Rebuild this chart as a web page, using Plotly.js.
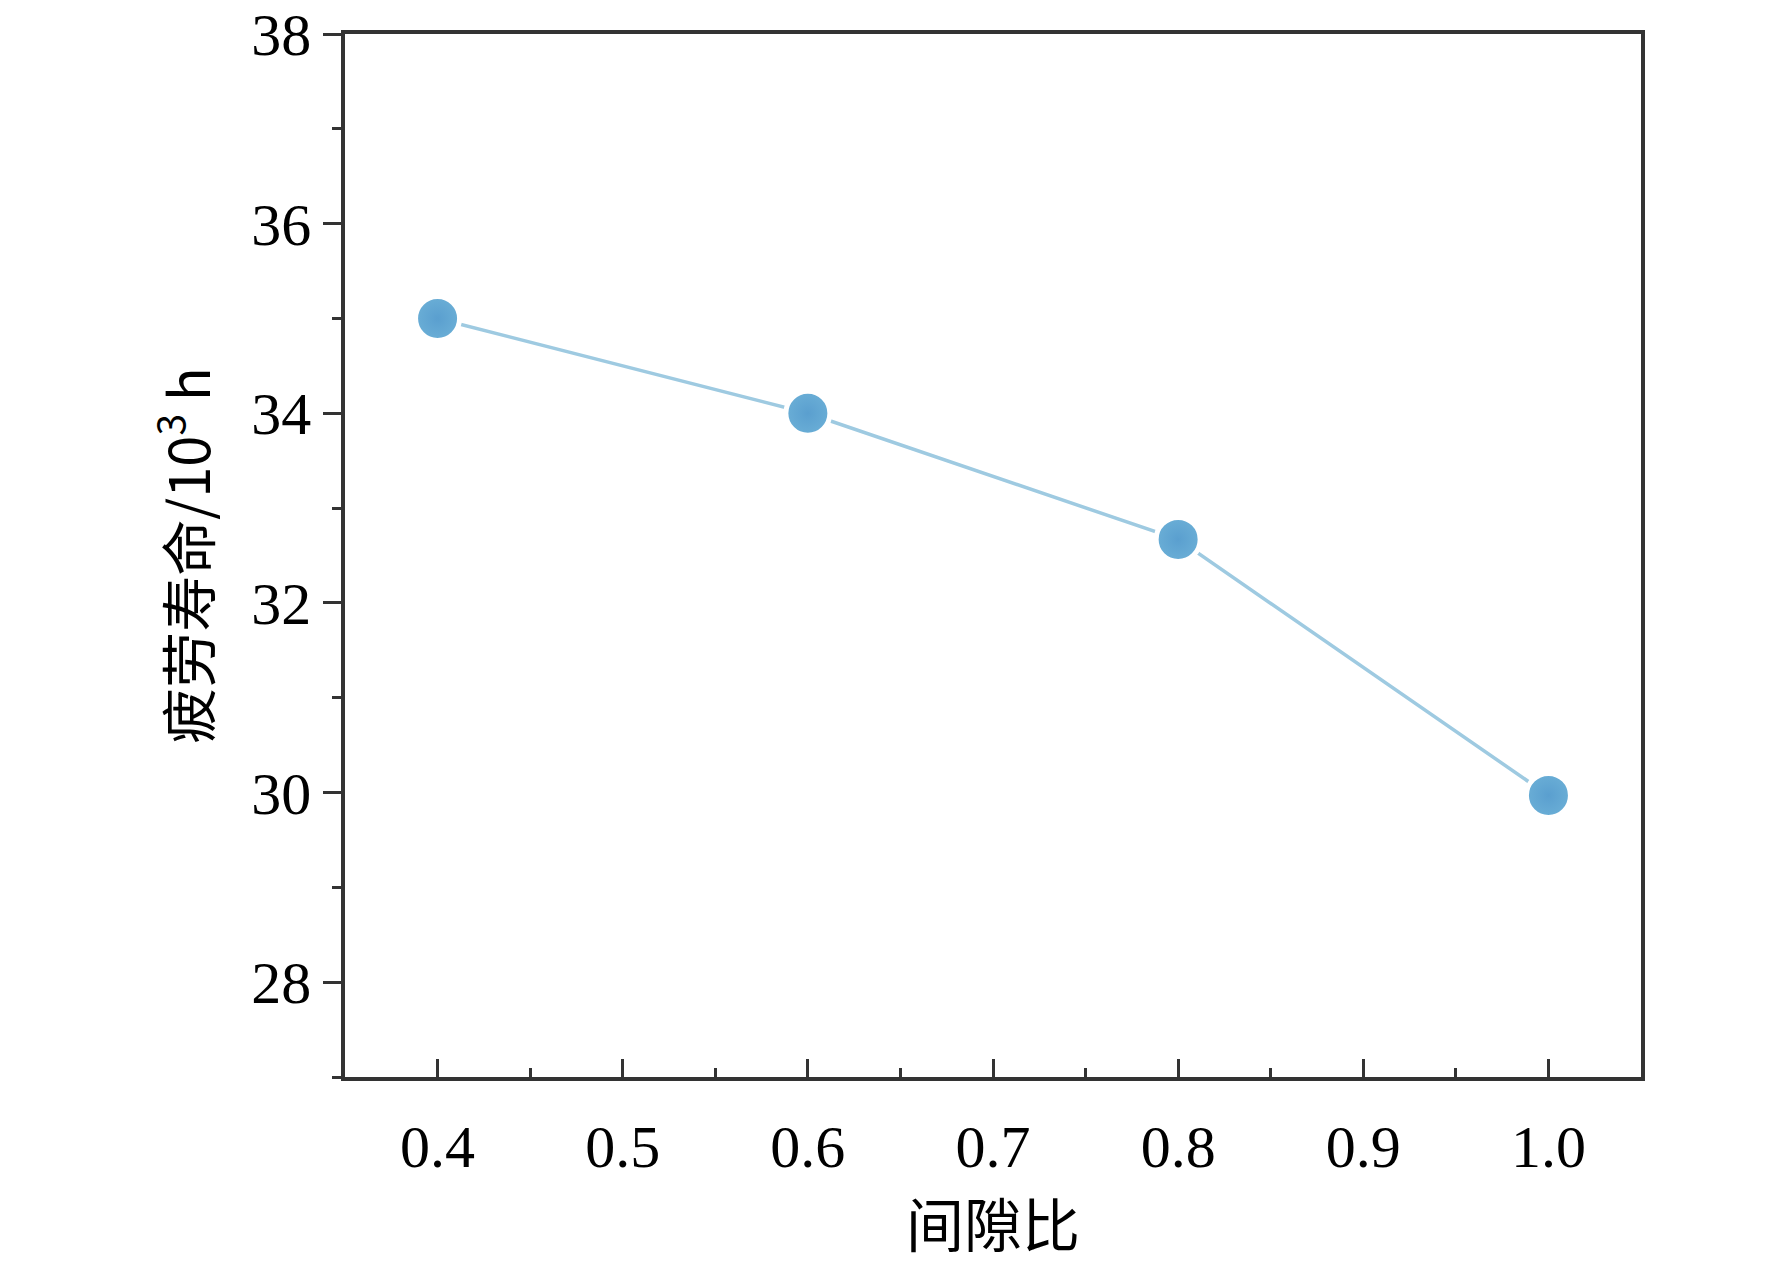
<!DOCTYPE html>
<html><head><meta charset="utf-8">
<script src="https://cdn.plot.ly/plotly-3.0.1.min.js"></script>
<style>body{margin:0}#c{width:1772px;height:1269px}</style></head>
<body><div id="c"></div>
<script>
const gapRatio = [0.4, 0.6, 0.8, 1.0];
const fatigueLife = [35.0, 34.0, 32.67, 29.97];
const font = {family: '"Liberation Serif", "Times New Roman", serif', size: 60, color: '#000'};
const trace = {
  x: gapRatio, y: fatigueLife, mode: 'lines+markers', type: 'scatter',
  line: {color: '#9ecae1', width: 3.5},
  marker: {size: 44, color: '#6aaed6', line: {color: '#ffffff', width: 5},
    gradient: {type: 'radial', color: '#5a9fcf'}},
  cliponaxis: false
};
const ax = {showline: true, linecolor: '#333', linewidth: 3.5, mirror: true, ticks: 'outside',
  ticklen: 18, tickwidth: 3, tickcolor: '#333', showgrid: false, zeroline: false, tickfont: font,
  minor: {ticks: 'outside', ticklen: 9, tickwidth: 3, tickcolor: '#333'}};
const layout = {
  width: 1772, height: 1269, margin: {l: 345, r: 131, t: 34, b: 192},
  paper_bgcolor: '#fff', plot_bgcolor: '#fff', showlegend: false,
  xaxis: Object.assign({}, ax, {range: [0.35, 1.05], ticks: 'inside', tickvals: [0.4,0.5,0.6,0.7,0.8,0.9,1.0],
    ticktext: ['0.4','0.5','0.6','0.7','0.8','0.9','1.0'], ticklabelstandoff: 14,
    minor: Object.assign({}, ax.minor, {ticks: 'inside', dtick: 0.05, tick0: 0.35}),
    title: {text: '间隙比', font: {family: '"Noto Sans CJK SC", sans-serif', size: 58, color: '#000'}, standoff: 14}}),
  yaxis: Object.assign({}, ax, {range: [27, 38], tickvals: [28,30,32,34,36,38],
    minor: Object.assign({}, ax.minor, {dtick: 1, tick0: 27}),
    title: {text: '疲劳寿命/10<sup>3</sup> h', font: {family: '"Noto Sans CJK SC", sans-serif', size: 56, color: '#000'}, standoff: 24}})
};
Plotly.newPlot('c', [trace], layout, {displayModeBar: false});
</script></body></html>
